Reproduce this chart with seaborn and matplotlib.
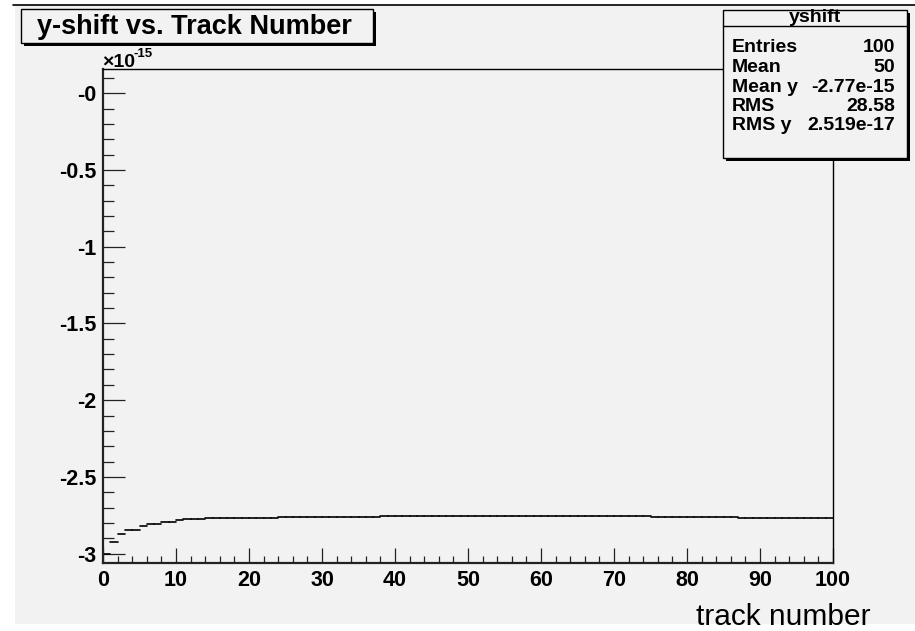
import numpy as np
import pandas as pd
import matplotlib
matplotlib.use("Agg")
import matplotlib.pyplot as plt
import seaborn as sns
from matplotlib.patches import Rectangle
from matplotlib.lines import Line2D
from matplotlib.ticker import MultipleLocator, FixedLocator, FixedFormatter

# ---------------- data ----------------
# profile of y-shift (in units of 1e-15) per track-number bin (100 bins, 0..100)
bin_edges = np.arange(0, 101)
yshift_e15 = [
    -3.000, -2.926, -2.869, -2.847, -2.847, -2.819, -2.808, -2.808, -2.795, -2.795,
    -2.782, -2.775, -2.775, -2.775, -2.765, -2.765, -2.765, -2.765, -2.765, -2.765,
    -2.765, -2.765, -2.765, -2.765, -2.758, -2.758, -2.758, -2.758, -2.758, -2.758,
    -2.758, -2.758, -2.758, -2.758, -2.758, -2.758, -2.758, -2.758, -2.752, -2.752,
    -2.752, -2.752, -2.752, -2.752, -2.752, -2.752, -2.752, -2.752, -2.752, -2.752,
    -2.752, -2.752, -2.752, -2.752, -2.752, -2.752, -2.752, -2.752, -2.752, -2.752,
    -2.752, -2.752, -2.752, -2.752, -2.752, -2.752, -2.752, -2.752, -2.752, -2.752,
    -2.752, -2.752, -2.752, -2.752, -2.752, -2.758, -2.758, -2.758, -2.758, -2.758,
    -2.758, -2.758, -2.758, -2.758, -2.758, -2.758, -2.758, -2.765, -2.765, -2.765,
    -2.765, -2.765, -2.765, -2.765, -2.765, -2.765, -2.765, -2.765, -2.765, -2.765,
]
x_ticks = [0, 10, 20, 30, 40, 50, 60, 70, 80, 90, 100]
x_ticklabels = ["0", "10", "20", "30", "40", "50", "60", "70", "80", "90", "100"]
y_ticks = [0.0, -0.5, -1.0, -1.5, -2.0, -2.5, -3.0]
y_ticklabels = ["-0", "-0.5", "-1", "-1.5", "-2", "-2.5", "-3"]
stats_title = "yshift"
stats_names = ["Entries", "Mean", "Mean y", "RMS", "RMS y"]
stats_values = ["100", "50", "-2.77e-15", "28.58", "2.519e-17"]
title_text = "y-shift vs. Track Number"
xlabel_text = "track number"

# ---------------- style ----------------
sns.set_theme(style="ticks")
plt.rcParams["font.family"] = ["Liberation Sans", "DejaVu Sans"]
BG = "#f2f2f2"

W, H = 915, 631
fig = plt.figure(figsize=(W / 100, H / 100), dpi=100)
fig.patch.set_facecolor("white")

def fx(px):
    return px / W

def fy(py):
    return 1 - py / H

# gray canvas
fig.add_artist(Rectangle((fx(15), fy(624)), fx(915) - fx(15), fy(5) - fy(624),
                         transform=fig.transFigure, facecolor=BG, edgecolor="none", zorder=-10))
fig.add_artist(Line2D([fx(13), fx(915)], [fy(5), fy(5)], transform=fig.transFigure,
                      color="black", lw=1.2, zorder=-5))

# axes
ax_l, ax_r, ax_t, ax_b = 103, 833, 69, 563
ax = fig.add_axes([fx(ax_l), fy(ax_b), fx(ax_r) - fx(ax_l), fy(ax_t) - fy(ax_b)])
ax.set_facecolor("none")

# build segments (one horizontal segment per bin)
rows = []
for i, v in enumerate(yshift_e15):
    rows.append({"x": bin_edges[i], "y": v, "bin": i})
    rows.append({"x": bin_edges[i + 1], "y": v, "bin": i})
df = pd.DataFrame(rows)
sns.lineplot(data=df, x="x", y="y", units="bin", estimator=None, color="black",
             lw=1.2, ax=ax, legend=False)

ax.set_xlim(0, 100)
ax.set_ylim(-3.061, 0.158)
ax.set_xlabel("")
ax.set_ylabel("")

for side in ["left", "bottom"]:
    ax.spines[side].set_linewidth(1.6)
    ax.spines[side].set_color("#222222")
for side in ["top", "right"]:
    ax.spines[side].set_visible(True)
    ax.spines[side].set_linewidth(1.0)
    ax.spines[side].set_color("black")

ax.xaxis.set_major_locator(FixedLocator(x_ticks))
ax.xaxis.set_major_formatter(FixedFormatter(x_ticklabels))
ax.xaxis.set_minor_locator(MultipleLocator(2))
ax.yaxis.set_major_locator(FixedLocator(y_ticks))
ax.yaxis.set_major_formatter(FixedFormatter(y_ticklabels))
ax.yaxis.set_minor_locator(MultipleLocator(0.1))

ax.tick_params(axis="x", which="major", direction="in", length=10.8, width=0.9,
               color="#222222", labelsize=15.5, pad=5, top=False)
ax.tick_params(axis="x", which="minor", direction="in", length=5.2, width=0.9,
               color="#222222", top=False)
ax.tick_params(axis="y", which="major", direction="in", length=15.8, width=0.9,
               color="#222222", labelsize=15.5, pad=5, right=False)
ax.tick_params(axis="y", which="minor", direction="in", length=7.9, width=0.9,
               color="#222222", right=False)
for lab in ax.get_xticklabels() + ax.get_yticklabels():
    lab.set_fontweight("bold")
    lab.set_color("black")

# exponent label
fig.text(fx(102), fy(67), "\u00d710", fontsize=14, fontweight="bold",
         ha="left", va="baseline", color="black")
fig.text(fx(134), fy(57), "-15", fontsize=9.5, fontweight="bold",
         ha="left", va="baseline", color="black")

# title box with shadow
tl, tr, tt, tb = 21, 373, 9, 43
sh = 3
fig.add_artist(Rectangle((fx(tl + sh), fy(tb + sh)), fx(tr) - fx(tl), fy(tt) - fy(tb),
                         transform=fig.transFigure, facecolor="black", edgecolor="none", zorder=6))
fig.add_artist(Rectangle((fx(tl), fy(tb)), fx(tr) - fx(tl), fy(tt) - fy(tb),
                         transform=fig.transFigure, facecolor=BG, edgecolor="black",
                         lw=1.0, zorder=7))
fig.text(fx((tl + tr) / 2 - 3), fy((tt + tb) / 2 + 1), title_text, fontsize=19.5,
         fontweight="bold", ha="center", va="center", color="black", zorder=8)

# stats box with shadow
sl, sr, st, sb = 723, 907, 10, 158
sh2 = 2.5
fig.add_artist(Rectangle((fx(sl + sh2), fy(sb + sh2)), fx(sr) - fx(sl), fy(st) - fy(sb),
                         transform=fig.transFigure, facecolor="black", edgecolor="none", zorder=6))
fig.add_artist(Rectangle((fx(sl), fy(sb)), fx(sr) - fx(sl), fy(st) - fy(sb),
                         transform=fig.transFigure, facecolor=BG, edgecolor="black",
                         lw=1.0, zorder=7))
fig.add_artist(Line2D([fx(sl), fx(sr)], [fy(25.5), fy(25.5)], transform=fig.transFigure,
                      color="black", lw=1.0, zorder=8))
fig.text(fx((sl + sr) / 2), fy(17.5), stats_title, fontsize=14, fontweight="bold",
         ha="center", va="center", color="black", zorder=9)
row_y = [47, 67, 87, 106.5, 126]
for name, val, yy in zip(stats_names, stats_values, row_y):
    fig.text(fx(732), fy(yy), name, fontsize=14, fontweight="bold",
             ha="left", va="center", color="black", zorder=9)
    fig.text(fx(895), fy(yy), val, fontsize=14, fontweight="bold",
             ha="right", va="center", color="black", zorder=9)

# x axis title
fig.text(fx(870), fy(625), xlabel_text, fontsize=21.5, ha="right", va="baseline",
         color="black", zorder=9)

fig.savefig("out.png", dpi=100)
